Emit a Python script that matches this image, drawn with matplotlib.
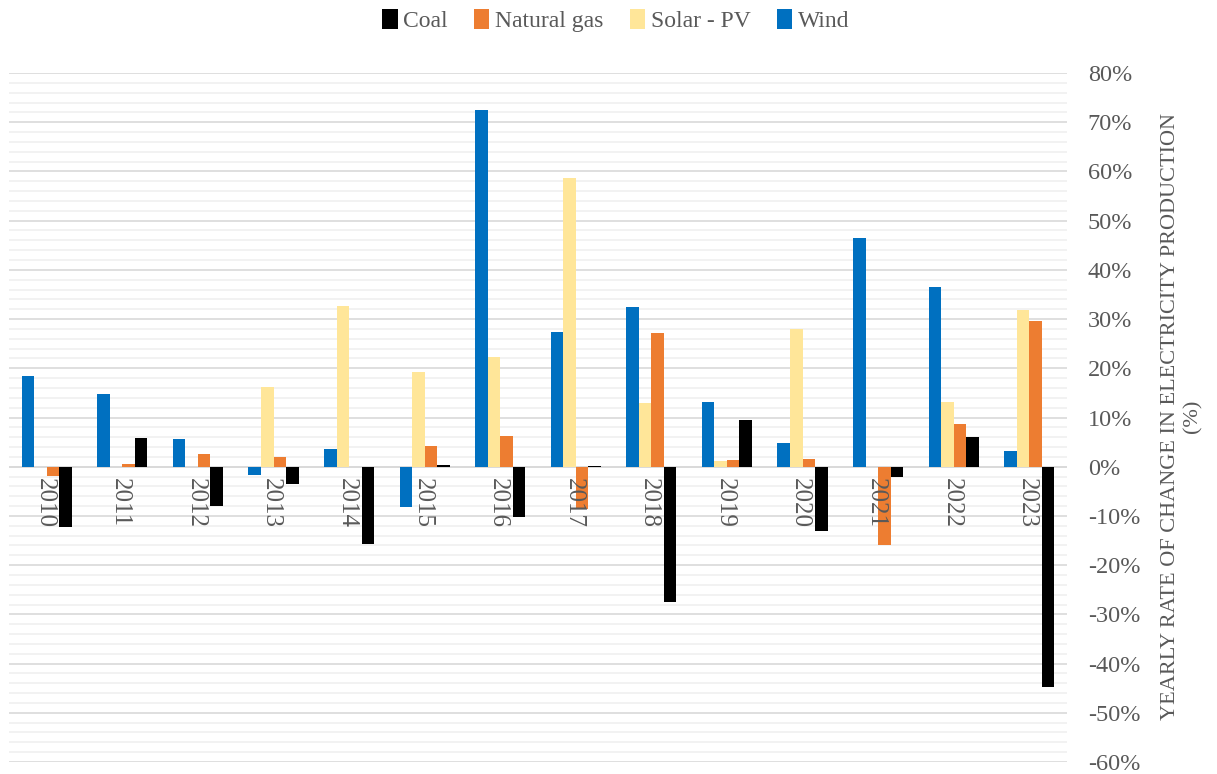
import numpy as np
import matplotlib
matplotlib.use("Agg")
import matplotlib.pyplot as plt
from matplotlib.ticker import MultipleLocator, FuncFormatter

years = ["2010", "2011", "2012", "2013", "2014", "2015", "2016",
         "2017", "2018", "2019", "2020", "2021", "2022", "2023"]

# yearly change in electricity production, %
wind = [18.4, 14.8, 5.6, -1.6, 3.6, -8.1, 72.5, 27.4, 32.5, 13.1, 4.8, 46.4, 36.5, 3.2]
solar = [0.0, 0.0, 0.0, 16.1, 32.7, 19.3, 22.2, 58.7, 12.9, 1.2, 28.0, 0.0, 13.1, 31.8]
gas = [-1.8, 0.5, 2.6, 1.9, 0.0, 4.2, 6.2, -8.5, 27.2, 1.4, 1.6, -16.0, 8.7, 29.7]
coal = [-12.2, 5.8, -8.0, -3.5, -15.8, 0.3, -10.3, 0.1, -27.4, 9.5, -13.1, -2.0, 6.0, -44.8]

grey = "#595959"
plt.rcParams["font.family"] = ["Liberation Serif", "DejaVu Serif"]

fig = plt.figure(figsize=(12.17, 7.74), dpi=100)
ax = fig.add_axes([9 / 1217, 12 / 774, (1067 - 9) / 1217, (762 - 73) / 774])

x = np.arange(len(years))
w = 0.166
series = [("Wind", wind, "#0070C0"), ("Solar - PV", solar, "#FFE699"),
          ("Natural gas", gas, "#ED7D31"), ("Coal", coal, "#000000")]
handles = {}
for k, (name, vals, col) in enumerate(series):
    off = (k - 1.5) * w
    b = ax.bar(x + off, vals, w, color=col, zorder=3)
    handles[name] = b

ax.set_xlim(-0.5, len(years) - 0.5)
ax.set_ylim(-60, 80)
ax.yaxis.set_major_locator(MultipleLocator(10))
ax.yaxis.set_minor_locator(MultipleLocator(2))
ax.yaxis.set_major_formatter(FuncFormatter(lambda v, p: f"{v:.0f}%"))
ax.grid(which="minor", axis="y", color="#f0f0f0", lw=1.2, zorder=0)
ax.grid(which="major", axis="y", color="#d9d9d9", lw=1.2, zorder=1)
ax.axhline(0, color="#d9d9d9", lw=1.2, zorder=2)

ax.yaxis.tick_right()
ax.tick_params(axis="y", which="both", length=0, pad=15, labelsize=17.5, labelcolor=grey)
ax.set_xticks([])
for s in ax.spines.values():
    s.set_visible(False)

for i, yr in enumerate(years):
    ax.text(i - 0.03, -2.2, yr, rotation=270, ha="center", va="top",
            fontsize=18, color=grey, zorder=4)

fig.text(0.971, 0.462, "YEARLY RATE OF CHANGE IN ELECTRICITY PRODUCTION\n(%)",
         rotation=90, ha="center", va="center", fontsize=16, color=grey,
         multialignment="center")

order = ["Coal", "Natural gas", "Solar - PV", "Wind"]
fig.legend([handles[n] for n in order], order, loc="center", bbox_to_anchor=(0.506, 0.973),
           ncol=4, frameon=False, fontsize=17, labelcolor=grey, handlelength=0.65,
           handleheight=0.9, handletextpad=0.25, columnspacing=1.1)

fig.savefig("out.png", dpi=100)
